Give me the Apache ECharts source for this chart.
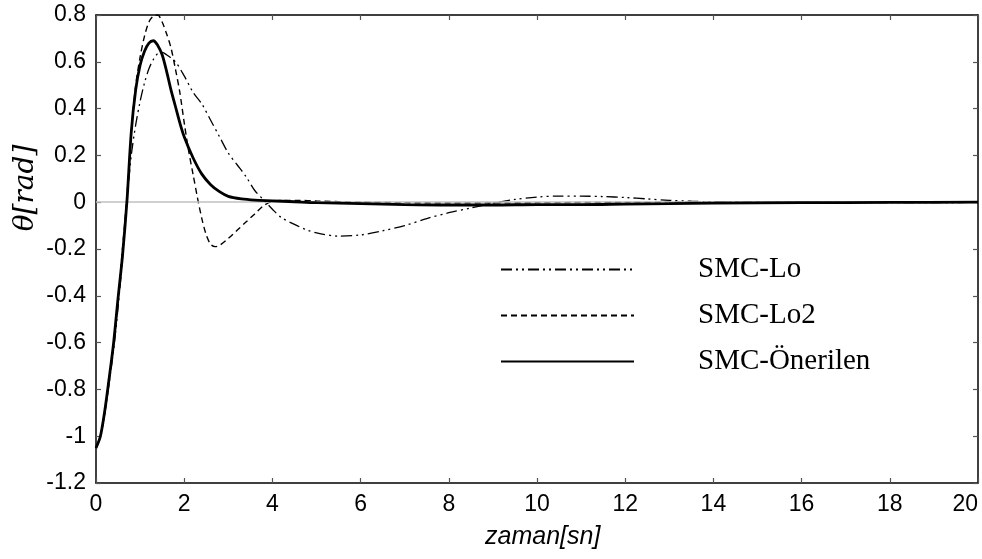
<!DOCTYPE html>
<html>
<head>
<meta charset="utf-8">
<script src="https://cdn.jsdelivr.net/npm/echarts@6/dist/echarts.min.js"></script>
<style>
html,body{margin:0;padding:0;background:#fff;}
#chart{width:982px;height:559px;}
</style>
</head>
<body>
<div id="chart"></div>
<script>
// ---- data ----
const seriesNames = ['SMC-Lo', 'SMC-Lo2', 'SMC-Önerilen'];
const xTicks = [0, 2, 4, 6, 8, 10, 12, 14, 16, 18, 20];
const yTicks = [-1.2, -1, -0.8, -0.6, -0.4, -0.2, 0, 0.2, 0.4, 0.6, 0.8];
const xTitle = 'zaman[sn]';
const yTitle = 'θ[rad]';

const tLo  = [0, 0.1, 0.2, 0.3, 0.4, 0.5, 0.6, 0.7, 0.8, 0.9, 1.0, 1.1, 1.2, 1.3, 1.4, 1.5, 1.6, 1.8, 2.0, 2.2, 2.4, 2.6, 2.8, 3.0, 3.2, 3.4, 3.6, 3.8, 4.0, 4.2, 4.5, 4.8, 5.1, 5.5, 6.0, 6.5, 7.0, 7.5, 8.0, 8.5, 9.0, 9.5, 10, 10.5, 11, 11.5, 12, 12.5, 13, 13.5, 14, 15, 16, 18, 20];
const vLo  = [-1.05, -1.0, -0.9, -0.77, -0.63, -0.45, -0.24, 0.0, 0.2, 0.33, 0.43, 0.51, 0.57, 0.61, 0.635, 0.64, 0.63, 0.6, 0.54, 0.47, 0.42, 0.35, 0.28, 0.21, 0.16, 0.11, 0.05, 0.01, -0.03, -0.065, -0.095, -0.12, -0.135, -0.145, -0.14, -0.122, -0.1, -0.07, -0.045, -0.025, -0.004, 0.012, 0.022, 0.026, 0.026, 0.024, 0.02, 0.014, 0.008, 0.004, 0.002, 0.0, -0.002, -0.002, -0.001];

const tLo2 = [0, 0.1, 0.2, 0.3, 0.4, 0.5, 0.6, 0.7, 0.8, 0.9, 1.0, 1.1, 1.2, 1.3, 1.4, 1.5, 1.6, 1.7, 1.8, 1.9, 2.0, 2.1, 2.2, 2.3, 2.4, 2.5, 2.6, 2.7, 2.8, 3.0, 3.2, 3.4, 3.6, 3.8, 4.0, 4.3, 4.6, 5, 6, 7, 8, 9, 10, 12, 14, 16, 18, 20];
const vLo2 = [-1.05, -1.0, -0.9, -0.76, -0.61, -0.42, -0.2, 0.02, 0.3, 0.5, 0.62, 0.71, 0.77, 0.795, 0.8, 0.77, 0.72, 0.66, 0.57, 0.47, 0.34, 0.22, 0.12, 0.02, -0.07, -0.14, -0.18, -0.19, -0.185, -0.155, -0.12, -0.085, -0.05, -0.015, 0.003, 0.008, 0.008, 0.005, 0.0, -0.002, -0.003, -0.003, -0.002, -0.001, 0, 0, 0, 0];

const tOn  = [0, 0.1, 0.2, 0.3, 0.4, 0.5, 0.6, 0.7, 0.8, 0.9, 1.0, 1.1, 1.2, 1.3, 1.4, 1.5, 1.6, 1.7, 1.8, 1.9, 2.0, 2.2, 2.4, 2.6, 2.8, 3.0, 3.3, 3.6, 4.0, 4.5, 5.0, 6.0, 7.0, 8.0, 9.0, 10, 11, 12, 13, 14, 16, 18, 20];
const vOn  = [-1.05, -1.0, -0.89, -0.75, -0.6, -0.41, -0.23, 0.0, 0.3, 0.48, 0.585, 0.645, 0.68, 0.69, 0.67, 0.63, 0.56, 0.48, 0.41, 0.34, 0.28, 0.19, 0.12, 0.075, 0.045, 0.025, 0.014, 0.009, 0.006, 0.002, -0.002, -0.006, -0.01, -0.012, -0.012, -0.01, -0.01, -0.008, -0.006, -0.004, -0.002, -0.001, 0];

// ---- build ----
const zip = (t, v) => t.map((x, i) => [x, v[i]]);
const chart = echarts.init(document.getElementById('chart'), null, {renderer: 'canvas'});
const labelFont = {fontFamily: 'Liberation Sans, Arial, sans-serif', fontSize: 23, color: '#000'};
const frameLine = {show: true, onZero: false, lineStyle: {color: '#000', width: 1.5}};
const tickIn = {show: true, inside: true, length: 5, lineStyle: {color: '#555', width: 1.2}};

chart.setOption({
  animation: false,
  backgroundColor: '#fff',
  grid: {left: 96, right: 4, top: 15, bottom: 76, containLabel: false, outerBoundsMode: 'none'},
  legend: {
    orient: 'vertical',
    left: 500,
    top: 255,
    padding: 0,
    itemWidth: 133,
    itemHeight: 14,
    itemGap: 17,
    data: seriesNames,
    itemStyle: {opacity: 0},
    textStyle: {fontFamily: 'Liberation Serif, Times New Roman, serif', fontSize: 29, color: '#000', padding: [0, 0, 0, 59]},
    selectedMode: false
  },
  graphic: [{
    type: 'text', left: 485, top: 525,
    style: {text: xTitle, font: 'italic 25px "Liberation Sans", Arial, sans-serif', fill: '#000'}
  }, {
    type: 'text', x: 26, y: 188, rotation: Math.PI / 2,
    style: {text: yTitle, font: 'italic 28px "DejaVu Serif", "Liberation Serif", serif', fill: '#000', align: 'center', verticalAlign: 'middle'}
  }],
  xAxis: [{
    type: 'value', min: 0, max: 20, interval: 2, position: 'bottom',
    axisLine: frameLine, axisTick: tickIn, splitLine: {show: false},
    axisLabel: Object.assign({margin: 10, alignMaxLabel: 'right', formatter: v => xTicks.includes(v) ? String(v) : ''}, labelFont)
  }, {
    type: 'value', min: 0, max: 20, interval: 2, position: 'top',
    axisLine: frameLine, axisTick: tickIn, axisLabel: {show: false}, splitLine: {show: false}
  }],
  yAxis: [{
    type: 'value', min: -1.2, max: 0.8, interval: 0.2, position: 'left',
    axisLine: frameLine, axisTick: tickIn, splitLine: {show: false},
    axisLabel: Object.assign({margin: 10, formatter: v => {
      const r = Math.round(v * 10) / 10;
      return yTicks.some(t => Math.abs(t - r) < 1e-9) ? String(r) : '';
    }}, labelFont)
  }, {
    type: 'value', min: -1.2, max: 0.8, interval: 0.2, position: 'right',
    axisLine: frameLine, axisTick: tickIn, axisLabel: {show: false}, splitLine: {show: false}
  }],
  series: [{
    name: seriesNames[0], type: 'line', symbol: 'none', smooth: 0.3,
    data: zip(tLo, vLo),
    itemStyle: {color: '#000'},
    lineStyle: {color: '#000', width: 1.3, type: [11, 4, 2, 4, 2, 4]},
    markLine: {silent: true, symbol: 'none', label: {show: false},
      lineStyle: {color: '#c0c0c0', width: 1.5, type: 'solid'}, data: [{yAxis: 0}]},
    z: 3
  }, {
    name: seriesNames[1], type: 'line', symbol: 'none', smooth: 0.3,
    data: zip(tLo2, vLo2),
    itemStyle: {color: '#000'},
    lineStyle: {color: '#000', width: 1.4, type: [6, 4]},
    z: 4
  }, {
    name: seriesNames[2], type: 'line', symbol: 'none', smooth: 0.3,
    data: zip(tOn, vOn),
    itemStyle: {color: '#000'},
    lineStyle: {color: '#000', width: 2.8, type: 'solid'},
    z: 5
  }]
});
</script>
</body>
</html>
